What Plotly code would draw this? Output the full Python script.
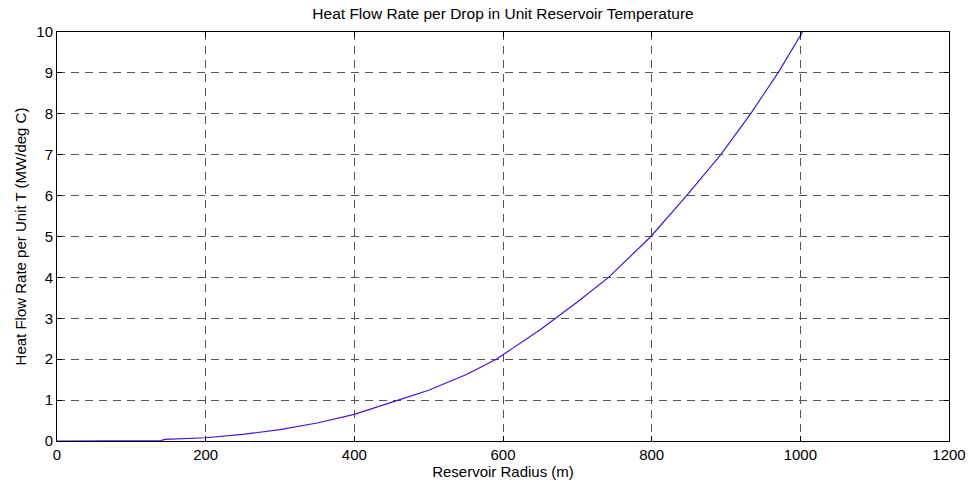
import plotly.graph_objects as go

radius = [0, 60, 140, 145, 170, 200, 250, 300, 350, 400, 459, 500, 550, 591, 650, 700, 742, 799, 847, 893, 933, 970, 1003]
heat = [0, 0.0, 0.01, 0.04, 0.05, 0.08, 0.16, 0.28, 0.44, 0.65, 1.0, 1.24, 1.62, 2.0, 2.72, 3.4, 4.0, 5.0, 6.0, 7.0, 8.0, 9.0, 10.0]

x_ticks = [0, 200, 400, 600, 800, 1000, 1200]
y_ticks = [0, 1, 2, 3, 4, 5, 6, 7, 8, 9, 10]

FONT = "Liberation Sans, Arial, Helvetica"

fig = go.Figure()
fig.add_trace(go.Scatter(x=radius, y=heat, mode="lines",
                         line=dict(color="#4a10d6", width=1.2), showlegend=False))

axis_common = dict(
    showline=True, linecolor="black", linewidth=1, mirror="ticks",
    ticks="inside", ticklen=5, tickcolor="black",
    showgrid=True, gridcolor="#555555", griddash="8px,6px", gridwidth=1,
    zeroline=False, automargin=False,
    tickfont=dict(family=FONT, size=15, color="black"),
)

fig.update_layout(
    width=968, height=484,
    margin=dict(l=57, r=19, t=32, b=43),
    paper_bgcolor="white", plot_bgcolor="white",
    font=dict(family=FONT, size=15, color="black"),
    title=dict(text="Heat Flow Rate per Drop in Unit Reservoir Temperature",
               x=0.5, xanchor="center", xref="paper",
               y=1 - 14 / 484, yanchor="middle", yref="container",
               font=dict(size=15.5)),
    xaxis=dict(range=[0, 1200], tickvals=x_ticks, ticktext=[str(v) for v in x_ticks],
               title=dict(text="Reservoir Radius (m)", standoff=2, font=dict(size=15)),
               **axis_common),
    yaxis=dict(range=[0, 10], tickvals=y_ticks, ticktext=[str(v) for v in y_ticks],
               title=dict(text="Heat Flow Rate per Unit T (MW/deg C)", standoff=6, font=dict(size=15)),
               **axis_common),
)

fig.write_html("out.html")
